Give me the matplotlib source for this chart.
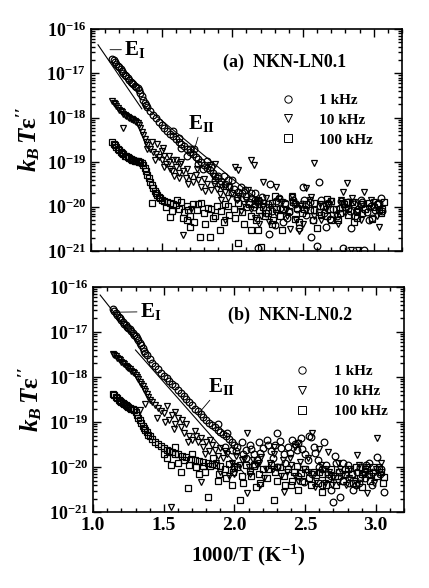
import numpy as np
import matplotlib.pyplot as plt
from matplotlib.ticker import LogLocator, MultipleLocator, NullFormatter, FuncFormatter

plt.rcParams['font.family'] = 'Liberation Serif'
plt.rcParams['font.weight'] = 'bold'
plt.rcParams['mathtext.fontset'] = 'custom'
plt.rcParams['mathtext.rm'] = 'Liberation Serif:bold'
plt.rcParams['mathtext.bf'] = 'Liberation Serif:bold'
plt.rcParams['mathtext.it'] = 'Liberation Serif:italic:bold'
plt.rcParams['mathtext.bfit'] = 'Liberation Serif:italic:bold'

# data: (1000/T, log10(kB*T*eps''))
# (a) NKN-LN0.1
a_1k = [(1.15, -16.68), (1.16, -16.71), (1.17, -16.75), (1.18, -16.79), (1.19, -16.83), (1.20, -16.87),
        (1.21, -16.91), (1.22, -16.95), (1.23, -16.99), (1.24, -17.03), (1.25, -17.07), (1.26, -17.11),
        (1.27, -17.15), (1.28, -17.19), (1.29, -17.22), (1.30, -17.25), (1.31, -17.28), (1.32, -17.31),
        (1.33, -17.34), (1.34, -17.38), (1.35, -17.44), (1.36, -17.52), (1.37, -17.60), (1.38, -17.66),
        (1.39, -17.72), (1.40, -17.77), (1.42, -17.85), (1.44, -17.93), (1.46, -18.01), (1.48, -18.09),
        (1.50, -18.17), (1.52, -18.24), (1.54, -18.30), (1.56, -18.36), (1.58, -18.42), (1.60, -18.48),
        (1.62, -18.54), (1.64, -18.58), (1.66, -18.63), (1.68, -18.70), (1.70, -18.76), (1.72, -18.82),
        (1.74, -18.88), (1.76, -18.93), (1.78, -18.99), (1.80, -19.06), (1.82, -19.12), (1.84, -19.18),
        (1.86, -19.25), (1.88, -19.31), (1.90, -19.36), (1.92, -19.42), (1.95, -19.48), (1.98, -19.55),
        (2.01, -19.60), (2.04, -19.66), (2.07, -19.70), (2.10, -19.75), (2.13, -19.80), (2.16, -19.84),
        (2.19, -19.88), (2.22, -19.92),
        (1.62, -18.45), (1.70, -18.70), (1.76, -19.05), (1.82, -18.98), (1.88, -19.40), (1.94, -19.30),
        (2.00, -19.70), (2.06, -19.55), (2.12, -19.90), (2.16, -19.70), (1.90, -19.30), (2.00, -19.40),
        (2.25, -19.95), (2.28, -20.10), (2.31, -19.88), (2.34, -20.02), (2.37, -19.92), (2.40, -20.12),
        (2.43, -19.85), (2.46, -20.05), (2.49, -19.95), (2.52, -20.18), (2.55, -19.90), (2.58, -20.08),
        (2.62, -19.98), (2.65, -20.15), (2.68, -19.92), (2.71, -20.05), (2.74, -20.20), (2.77, -19.88),
        (2.80, -20.00), (2.83, -20.10), (2.86, -19.95), (2.89, -20.05), (2.92, -19.90), (2.95, -20.12),
        (2.98, -19.98), (3.01, -20.08), (3.04, -19.92),
        (2.61, -19.45), (2.50, -19.56), (2.27, -19.50), (2.13, -19.70), (3.05, -19.80), (2.26, -20.62),
        (2.47, -20.48), (2.56, -20.68), (2.60, -20.89), (2.84, -20.48), (2.99, -20.26), (2.93, -20.98),
        (2.78, -20.93), (2.18, -20.93), (2.30, -20.41),
        (1.68, -18.85), (1.73, -18.70), (1.79, -19.15), (1.85, -19.10), (1.91, -19.50), (1.97, -19.40),
        (2.03, -19.80), (2.09, -19.62), (2.15, -20.00), (2.21, -19.78), (2.24, -20.15), (2.33, -19.80),
        (2.39, -20.25), (2.44, -19.95), (2.51, -19.85), (2.57, -20.30), (2.63, -19.85), (2.69, -20.28),
        (2.76, -20.02), (2.82, -19.90), (2.87, -20.22), (2.91, -19.85), (2.97, -20.30), (3.02, -19.95),
        (3.06, -20.10), (1.58, -18.30), (1.64, -18.68), (2.36, -20.35), (2.66, -20.45)]

a_10k = [(1.15, -17.62), (1.16, -17.66), (1.17, -17.70), (1.18, -17.74), (1.19, -17.78), (1.20, -17.82),
         (1.21, -17.85), (1.22, -17.88), (1.23, -17.91), (1.24, -17.94), (1.25, -17.96), (1.26, -17.98),
         (1.27, -18.00), (1.28, -18.02), (1.29, -18.04), (1.30, -18.06), (1.31, -18.08), (1.32, -18.10),
         (1.33, -18.13), (1.34, -18.17), (1.35, -18.24), (1.36, -18.32), (1.37, -18.40), (1.38, -18.48),
         (1.39, -18.55), (1.40, -18.62), (1.42, -18.70), (1.44, -18.76), (1.46, -18.82), (1.48, -18.88),
         (1.40, -18.70), (1.43, -18.55), (1.45, -18.95), (1.47, -18.60), (1.50, -18.75), (1.52, -19.10),
         (1.55, -18.85), (1.57, -19.20), (1.60, -18.95), (1.62, -19.35),
         (1.50, -18.95), (1.52, -18.85), (1.53, -19.05), (1.55, -19.00), (1.56, -19.15), (1.58, -18.95),
         (1.60, -19.10), (1.62, -19.25), (1.63, -19.05), (1.65, -19.20), (1.67, -19.35), (1.68, -19.15),
         (1.70, -19.30), (1.72, -19.45), (1.74, -19.28), (1.76, -19.40), (1.78, -19.55), (1.80, -19.38),
         (1.82, -19.50), (1.84, -19.06), (1.85, -19.62), (1.87, -19.48), (1.89, -19.60), (1.91, -19.72),
         (1.93, -19.55), (1.95, -19.68), (1.97, -19.80), (2.00, -19.70), (2.02, -19.10), (2.03, -19.85),
         (2.05, -19.75), (2.08, -19.95),
         (2.10, -19.85), (2.13, -20.05), (2.17, -19.92), (2.20, -20.20), (2.24, -19.80), (2.27, -20.00),
         (2.31, -20.15), (2.35, -19.90), (2.38, -20.08), (2.42, -19.75), (2.45, -20.30), (2.48, -19.98),
         (2.52, -20.10), (2.55, -19.85), (2.58, -20.22), (2.62, -19.95), (2.66, -20.05), (2.70, -19.88),
         (2.73, -20.18), (2.77, -19.92), (2.81, -20.05), (2.85, -19.80), (2.88, -20.12), (2.92, -19.95),
         (2.96, -20.02), (3.00, -19.90), (3.03, -20.10),
         (2.13, -18.95), (2.15, -19.06), (2.04, -19.18), (2.58, -19.02), (2.22, -19.45), (2.31, -19.56),
         (2.52, -19.58), (2.78, -19.67), (2.81, -19.47), (2.93, -19.67), (2.77, -19.85), (3.04, -20.46),
         (1.65, -20.64), (2.41, -20.50), (2.89, -20.98), (2.84, -20.98), (1.23, -18.23), (2.47, -20.55),
         (2.19, -20.40), (1.88, -19.05),
         (1.51, -18.68), (1.59, -19.30), (1.64, -19.00), (1.69, -19.50), (1.75, -19.15), (1.81, -19.65),
         (1.86, -19.30), (1.92, -19.85), (1.98, -19.55), (2.06, -20.10), (2.11, -19.62), (2.16, -20.25),
         (2.22, -19.98), (2.26, -20.35), (2.33, -19.82), (2.39, -20.20), (2.44, -19.95), (2.50, -20.40),
         (2.56, -19.78), (2.63, -20.30), (2.68, -19.95), (2.75, -20.40), (2.80, -20.15), (2.86, -19.90),
         (2.91, -20.30), (2.98, -19.85), (3.02, -20.20), (1.71, -20.05), (1.95, -20.30)]

a_100k = [(1.15, -18.55), (1.16, -18.58), (1.17, -18.62), (1.18, -18.66), (1.19, -18.70), (1.20, -18.73),
          (1.21, -18.76), (1.22, -18.79), (1.23, -18.82), (1.24, -18.85), (1.25, -18.87), (1.26, -18.89),
          (1.27, -18.91), (1.28, -18.93), (1.29, -18.95), (1.30, -18.96), (1.31, -18.97), (1.32, -18.98),
          (1.33, -18.98), (1.34, -18.99), (1.35, -19.00), (1.36, -19.02), (1.37, -19.06), (1.38, -19.12),
          (1.39, -19.20), (1.40, -19.28), (1.41, -19.36), (1.42, -19.44), (1.43, -19.52), (1.44, -19.58),
          (1.45, -19.64), (1.46, -19.70), (1.47, -19.74), (1.48, -19.78), (1.49, -19.81), (1.50, -19.84),
          (1.52, -19.87), (1.54, -19.90), (1.56, -19.92), (1.58, -19.94), (1.60, -19.96),
          (1.62, -20.05), (1.64, -19.90), (1.66, -20.12), (1.68, -19.98), (1.70, -20.20), (1.72, -19.95),
          (1.75, -20.08), (1.78, -19.92), (1.80, -20.15), (1.83, -20.02), (1.86, -20.25), (1.89, -19.98),
          (1.92, -20.10), (1.95, -19.95), (1.98, -20.18), (2.01, -20.05), (2.04, -19.92), (2.07, -20.12),
          (2.10, -20.00), (2.13, -20.22), (2.16, -19.95), (2.19, -20.08), (2.22, -20.00), (2.25, -20.15),
          (2.28, -19.92), (2.31, -20.05), (2.34, -20.20), (2.37, -19.95), (2.40, -20.10), (2.43, -19.90),
          (2.46, -20.02), (2.49, -20.15), (2.52, -19.95), (2.55, -20.08), (2.58, -19.92), (2.61, -20.12),
          (2.64, -19.98), (2.67, -20.20), (2.70, -19.88), (2.73, -20.05), (2.76, -20.15), (2.79, -19.95),
          (2.82, -20.02), (2.85, -19.90), (2.88, -20.10), (2.91, -19.95), (2.94, -20.05), (2.97, -19.92),
          (3.00, -20.00), (3.03, -19.95), (3.06, -20.05), (3.07, -19.90),
          (1.43, -19.92), (1.56, -20.23), (1.68, -20.30), (1.77, -20.69), (1.84, -20.69), (1.91, -20.53),
          (2.04, -20.82), (2.13, -20.53), (2.18, -20.53), (2.20, -20.90), (2.35, -20.53), (2.60, -20.48),
          (2.82, -20.19), (1.70, -20.45), (2.28, -20.40), (2.47, -20.35), (2.70, -20.30), (2.88, -20.25),
          (3.05, -20.15), (2.30, -19.75), (2.42, -19.78), (2.67, -19.82), (2.18, -19.85),
          (1.53, -20.00), (1.57, -20.10), (1.61, -19.85), (1.65, -20.25), (1.69, -20.08), (1.73, -20.35),
          (1.76, -19.95), (1.81, -20.40), (1.85, -20.05), (1.88, -20.20), (1.94, -20.35), (1.97, -19.98),
          (2.02, -20.25), (2.08, -20.40), (2.12, -19.95), (2.17, -20.30), (2.23, -20.20), (2.29, -20.30),
          (2.36, -20.05), (2.44, -20.28), (2.51, -20.05), (2.57, -20.30), (2.63, -20.18), (2.69, -20.05),
          (2.75, -20.30), (2.81, -19.90), (2.86, -20.35), (2.92, -20.15), (2.99, -20.28), (3.04, -20.08)]

# (b) NKN-LN0.2
b_1k = [(1.14, -16.50), (1.15, -16.54), (1.16, -16.58), (1.17, -16.62), (1.18, -16.66), (1.19, -16.70),
        (1.20, -16.74), (1.21, -16.78), (1.22, -16.82), (1.23, -16.85), (1.24, -16.88), (1.25, -16.91),
        (1.26, -16.94), (1.27, -16.98), (1.28, -17.02), (1.29, -17.06), (1.30, -17.10), (1.31, -17.14),
        (1.32, -17.18), (1.33, -17.24), (1.34, -17.30), (1.35, -17.36), (1.36, -17.42), (1.37, -17.47),
        (1.38, -17.52), (1.40, -17.60), (1.42, -17.68), (1.44, -17.75), (1.46, -17.83), (1.48, -17.90),
        (1.50, -17.97), (1.52, -18.03), (1.54, -18.09), (1.56, -18.15), (1.58, -18.21), (1.60, -18.28),
        (1.62, -18.35), (1.64, -18.42), (1.66, -18.49), (1.68, -18.56), (1.70, -18.63), (1.72, -18.70),
        (1.74, -18.76), (1.76, -18.83), (1.78, -18.89), (1.80, -18.95), (1.82, -19.01), (1.84, -19.07),
        (1.86, -19.12), (1.88, -19.17), (1.90, -19.22), (1.92, -19.27), (1.94, -19.32), (1.96, -19.38),
        (1.98, -19.44), (2.00, -19.50),
        (2.02, -19.55), (2.05, -19.45), (2.08, -19.62), (2.11, -19.50), (2.14, -19.70), (2.17, -19.45),
        (2.20, -19.58), (2.23, -19.40), (2.26, -19.65), (2.29, -19.50), (2.32, -19.42), (2.35, -19.72),
        (2.38, -19.55), (2.41, -19.40), (2.44, -19.62), (2.47, -19.35), (2.50, -19.70), (2.53, -19.30),
        (2.56, -19.55), (2.45, -19.47), (2.54, -19.33), (2.63, -19.44), (2.30, -19.25),
        (2.59, -19.85), (2.62, -20.05), (2.65, -19.95), (2.68, -20.20), (2.71, -19.75), (2.74, -20.10),
        (2.77, -20.30), (2.80, -19.95), (2.83, -20.15), (2.86, -20.40), (2.89, -20.00), (2.92, -20.25),
        (2.95, -19.90), (2.98, -20.10), (3.01, -19.78), (3.04, -20.05), (3.06, -20.56),
        (2.70, -20.78), (2.75, -20.67), (2.62, -20.40), (2.84, -20.51), (2.45, -20.20), (2.30, -20.00),
        (2.14, -19.92), (2.55, -20.15), (1.93, -19.55), (1.98, -19.62), (2.08, -19.80), (2.16, -19.85),
        (2.49, -20.33), (2.77, -19.90), (2.92, -20.10),
        (2.01, -19.65), (2.06, -19.72), (2.12, -19.60), (2.18, -19.68), (2.24, -19.52), (2.27, -19.80),
        (2.33, -19.58), (2.39, -19.68), (2.43, -19.48), (2.48, -19.60), (2.52, -19.85), (2.57, -19.68),
        (2.60, -20.00), (2.66, -20.15), (2.72, -19.90), (2.78, -20.05), (2.81, -20.35), (2.87, -20.10),
        (2.93, -19.95), (2.97, -20.40), (3.03, -20.15), (1.88, -19.05), (1.95, -19.25), (2.36, -19.90),
        (2.68, -20.50), (2.88, -20.35)]

b_10k = [(1.14, -17.48), (1.15, -17.51), (1.16, -17.54), (1.17, -17.57), (1.18, -17.60), (1.19, -17.63),
         (1.20, -17.66), (1.21, -17.69), (1.22, -17.72), (1.23, -17.75), (1.24, -17.78), (1.25, -17.80),
         (1.26, -17.83), (1.27, -17.86), (1.28, -17.89), (1.29, -17.92), (1.30, -17.95), (1.31, -18.00),
         (1.32, -18.05), (1.33, -18.10), (1.34, -18.15), (1.35, -18.20), (1.36, -18.26), (1.37, -18.32),
         (1.38, -18.38), (1.39, -18.44), (1.40, -18.50), (1.42, -18.56), (1.44, -18.62), (1.46, -18.68),
         (1.48, -18.75),
         (1.50, -18.80), (1.52, -18.65), (1.54, -18.95), (1.56, -18.85), (1.58, -19.05), (1.60, -18.90),
         (1.62, -19.10), (1.64, -19.25), (1.66, -19.05), (1.68, -19.30), (1.70, -19.40), (1.72, -19.20),
         (1.74, -19.45), (1.76, -19.35), (1.78, -19.55), (1.80, -19.45), (1.82, -19.65), (1.84, -19.50),
         (1.86, -19.62), (1.88, -19.75), (1.90, -19.58), (1.92, -19.80), (1.95, -19.70), (1.98, -19.90),
         (2.01, -19.75), (2.04, -19.95), (2.07, -19.82), (2.10, -20.00), (2.13, -19.85), (2.16, -19.95),
         (2.19, -19.78), (2.22, -20.05), (2.25, -19.90), (2.28, -19.72), (2.31, -20.00), (2.34, -19.85),
         (2.37, -20.10), (2.40, -19.95), (2.43, -20.20), (2.46, -19.88), (2.49, -20.05), (2.52, -19.80),
         (2.55, -20.15), (2.58, -20.30), (2.61, -19.95), (2.64, -20.35), (2.67, -20.10), (2.70, -20.25),
         (2.73, -19.90), (2.76, -20.20), (2.79, -20.40), (2.82, -20.05), (2.85, -20.30), (2.88, -19.95),
         (2.91, -20.15), (2.94, -20.00), (2.97, -20.20), (3.00, -20.05), (3.04, -19.90),
         (2.09, -19.24), (2.55, -19.24), (3.01, -19.36), (1.55, -20.89), (1.76, -20.33), (2.09, -20.58),
         (2.94, -20.58), (2.73, -20.33), (2.66, -19.67), (2.87, -19.73), (2.45, -19.47), (2.43, -19.55),
         (2.28, -19.55), (2.60, -19.60), (1.33, -18.73), (1.37, -18.60), (2.35, -20.55), (1.90, -20.10),
         (2.00, -20.15), (1.45, -18.90), (1.58, -18.78),
         (1.51, -19.00), (1.57, -19.15), (1.63, -18.95), (1.67, -19.45), (1.73, -19.30), (1.79, -19.70),
         (1.83, -19.40), (1.87, -19.90), (1.93, -19.65), (1.99, -20.05), (2.05, -19.85), (2.11, -20.15),
         (2.17, -19.90), (2.21, -20.25), (2.27, -20.05), (2.33, -20.20), (2.39, -19.80), (2.45, -20.30),
         (2.51, -20.10), (2.57, -20.45), (2.63, -20.05), (2.69, -20.40), (2.75, -20.05), (2.81, -20.25),
         (2.87, -20.40), (2.93, -20.10), (2.99, -20.35), (3.02, -20.00), (1.96, -20.20), (2.18, -20.40)]

b_100k = [(1.14, -18.38), (1.15, -18.41), (1.16, -18.44), (1.17, -18.47), (1.18, -18.50), (1.19, -18.53),
          (1.20, -18.56), (1.21, -18.58), (1.22, -18.60), (1.23, -18.62), (1.24, -18.64), (1.25, -18.66),
          (1.26, -18.68), (1.27, -18.70), (1.28, -18.72), (1.29, -18.74), (1.30, -18.78), (1.31, -18.84),
          (1.32, -18.90), (1.33, -18.96), (1.34, -19.02), (1.35, -19.08), (1.36, -19.13), (1.37, -19.18),
          (1.38, -19.23), (1.39, -19.28), (1.40, -19.32), (1.42, -19.38), (1.44, -19.44), (1.46, -19.49),
          (1.48, -19.54), (1.50, -19.58), (1.52, -19.61), (1.54, -19.64), (1.56, -19.67), (1.58, -19.70),
          (1.60, -19.72), (1.63, -19.75), (1.66, -19.78), (1.69, -19.81), (1.72, -19.84), (1.75, -19.87),
          (1.78, -19.89), (1.81, -19.91), (1.84, -19.93), (1.87, -19.95), (1.90, -19.97),
          (1.50, -19.70), (1.58, -19.55), (1.64, -19.85), (1.70, -19.70), (1.78, -19.98), (1.85, -19.80),
          (1.93, -20.05), (1.96, -19.92), (1.99, -20.10), (2.02, -20.00), (2.05, -20.20), (2.08, -19.95),
          (2.11, -20.08), (2.14, -19.98), (2.17, -20.15), (2.20, -20.05), (2.23, -20.25), (2.26, -19.95),
          (2.29, -20.10), (2.32, -20.00), (2.35, -20.20), (2.38, -20.05), (2.41, -20.30), (2.44, -19.98),
          (2.47, -20.12), (2.50, -20.05), (2.53, -20.25), (2.56, -20.10), (2.59, -20.35), (2.62, -20.15),
          (2.65, -20.40), (2.68, -20.05), (2.71, -20.20), (2.74, -20.10), (2.77, -20.30), (2.80, -20.05),
          (2.83, -20.15), (2.86, -20.00), (2.89, -20.25), (2.92, -20.05), (2.95, -20.15), (2.98, -20.00),
          (3.01, -20.20), (3.04, -20.10), (3.06, -20.22),
          (1.67, -20.47), (1.81, -20.67), (2.04, -20.73), (2.28, -20.73), (1.55, -19.96), (1.62, -20.10),
          (1.75, -20.15), (1.88, -20.30), (2.15, -20.45), (2.45, -20.50), (2.62, -20.55), (2.90, -20.45),
          (2.40, -20.40), (1.98, -20.40),
          (1.52, -19.80), (1.60, -19.90), (1.68, -19.95), (1.73, -20.00), (1.79, -20.10), (1.83, -19.98),
          (1.89, -20.15), (1.94, -20.25), (2.00, -19.98), (2.06, -20.35), (2.12, -20.20), (2.18, -20.35),
          (2.24, -20.05), (2.30, -20.30), (2.36, -20.40), (2.42, -20.10), (2.48, -20.30), (2.54, -20.40),
          (2.60, -20.10), (2.66, -20.25), (2.72, -20.40), (2.78, -20.15), (2.84, -20.35), (2.90, -20.15),
          (2.96, -20.30), (3.02, -20.05), (3.05, -20.35)]

# fitted activation lines (1000/T, log10 value)
fit_a_EI = [(1.05, -16.36), (1.36, -17.80)]
fit_a_EII = [(1.37, -17.72), (2.22, -19.95)]
fit_b_EI = [(1.05, -16.18), (1.33, -17.29)]
fit_b_EII = [(1.30, -17.40), (2.08, -20.18)]

labels = ['1 kHz', '10 kHz', '100 kHz']
markers = ['o', 'v', 's']


def ytick_fmt(v, pos):
    e = int(round(np.log10(v)))
    return r'$\mathbf{10^{%d}}$' % e


def draw_panel(ax, series, fits, title, title_xy, leg_xy):
    for data, m, lab in zip(series, markers, labels):
        arr = np.array(data)
        ax.plot(arr[:, 0], 10 ** arr[:, 1], linestyle='none', marker=m, ms=4.8,
                mfc='none', mec='black', mew=0.9, label=lab)
    for f in fits:
        arr = np.array(f)
        ax.plot(arr[:, 0], 10 ** arr[:, 1], color='black', lw=0.8)
    ax.set_yscale('log')
    ax.set_xlim(1.0, 3.2)
    ax.set_ylim(1e-21, 1e-16)
    ax.xaxis.set_major_locator(MultipleLocator(0.5))
    ax.xaxis.set_minor_locator(MultipleLocator(0.1))
    ax.yaxis.set_major_locator(LogLocator(base=10, numticks=10))
    ax.yaxis.set_minor_locator(LogLocator(base=10, subs=np.arange(2, 10), numticks=20))
    ax.yaxis.set_minor_formatter(NullFormatter())
    ax.yaxis.set_major_formatter(FuncFormatter(ytick_fmt))
    ax.tick_params(which='both', direction='in', top=True, right=True, width=1)
    ax.tick_params(which='major', length=6)
    ax.tick_params(axis='y', which='major', labelsize=13)
    ax.tick_params(axis='x', which='major', labelsize=14)
    ax.tick_params(which='minor', length=3)
    for lab in ax.get_xticklabels() + ax.get_yticklabels():
        lab.set_fontweight('bold')
    for s in ax.spines.values():
        s.set_linewidth(1.2)
    ax.text(title_xy[0], title_xy[1], title, transform=ax.transAxes, fontsize=13,
            fontweight='bold', va='center', ha='left')
    leg = ax.legend(loc='upper left', bbox_to_anchor=leg_xy, frameon=False,
                    handlelength=1.0, handletextpad=1.55, labelspacing=0.4, borderpad=0,
                    borderaxespad=0, markerscale=1.1, prop={'weight': 'bold', 'size': 11})
    for h in leg.legend_handles:
        h.set_markeredgewidth(0.7)
    ax.set_ylabel(r"$\mathbfit{k_{B}\,T}\mathbf{\varepsilon''}$", fontsize=18, labelpad=3)


fig = plt.figure(figsize=(4.29, 5.88), dpi=100)
ax_a = fig.add_axes([0.212, 0.573, 0.725, 0.378])
ax_b = fig.add_axes([0.217, 0.129, 0.725, 0.383])

draw_panel(ax_a, [a_1k, a_10k, a_100k], [fit_a_EI, fit_a_EII], '(a)  NKN-LN0.1',
           (0.424, 0.847), (0.609, 0.71))
draw_panel(ax_b, [b_1k, b_10k, b_100k], [fit_b_EI, fit_b_EII], '(b)  NKN-LN0.2',
           (0.434, 0.876), (0.648, 0.655))

ax_a.tick_params(labelbottom=False)
ax_b.set_xlabel(r'$\mathbf{1000/T\ (K^{-1})}$', fontsize=15, labelpad=6)

# E_I / E_II labels with leader lines
kw = dict(fontsize=15, fontweight='bold', va='center', ha='left',
          arrowprops=dict(arrowstyle='-', color='black', lw=0.6, shrinkA=0, shrinkB=0))
ax_a.annotate(r'$\mathbf{E_{I}}$', xy=(1.135, 10 ** -16.47), xytext=(1.235, 10 ** -16.47), **kw)
ax_a.annotate(r'$\mathbf{E_{II}}$', xy=(1.716, 10 ** -18.88), xytext=(1.69, 10 ** -18.14), **kw)
ax_b.annotate(r'$\mathbf{E_{I}}$', xy=(1.177, 10 ** -16.56), xytext=(1.33, 10 ** -16.55), **kw)
ax_b.annotate(r'$\mathbf{E_{II}}$', xy=(1.738, 10 ** -18.84), xytext=(1.81, 10 ** -18.22), **kw)

fig.savefig('out.png', dpi=100)
